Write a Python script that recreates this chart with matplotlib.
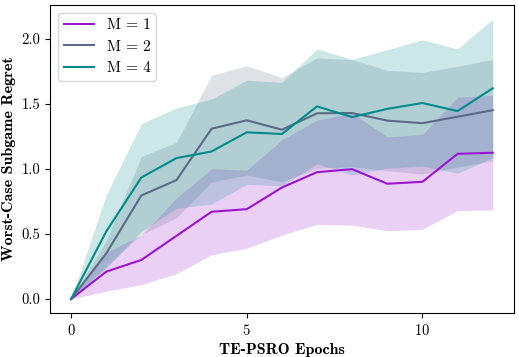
import numpy as np
import matplotlib
matplotlib.use("Agg")
import matplotlib.pyplot as plt

plt.rcParams["font.family"] = "cmr10"
plt.rcParams["mathtext.fontset"] = "cm"
plt.rcParams["axes.formatter.use_mathtext"] = True

epochs = np.arange(13)

# mean regret per epoch
m1_mean = [0.0, 0.21, 0.30, 0.485, 0.67, 0.69, 0.856, 0.974, 0.997, 0.885, 0.90, 1.115, 1.123]
m2_mean = [0.0, 0.35, 0.795, 0.913, 1.308, 1.372, 1.30, 1.426, 1.428, 1.37, 1.35, 1.40, 1.45]
m4_mean = [0.0, 0.518, 0.933, 1.082, 1.133, 1.28, 1.267, 1.479, 1.397, 1.46, 1.505, 1.443, 1.618]

# std (band half-widths)
m1_std = [0.0, 0.15, 0.19, 0.29, 0.33, 0.30, 0.366, 0.40, 0.43, 0.36, 0.364, 0.435, 0.44]
m2_std = [0.0, 0.10, 0.30, 0.29, 0.41, 0.42, 0.40, 0.425, 0.41, 0.386, 0.39, 0.387, 0.39]
m4_std = [0.0, 0.28, 0.413, 0.385, 0.403, 0.40, 0.397, 0.44, 0.443, 0.455, 0.485, 0.477, 0.532]

labels = ["M = 1", "M = 2", "M = 4"]
colors = ["#9b14d2", "#5b6a86", "#008b8b"]

fig, ax = plt.subplots(figsize=(5.19, 3.57), dpi=100)

for mean, std, lab, c in zip([m1_mean, m2_mean, m4_mean],
                             [m1_std, m2_std, m4_std], labels, colors):
    mean = np.array(mean)
    std = np.array(std)
    ax.plot(epochs, mean, color=c, linewidth=1.5, label=lab)
    ax.fill_between(epochs, mean - std, mean + std, color=c, alpha=0.2, linewidth=0)

ax.set_xticks([0, 5, 10])
ax.set_yticks([0.0, 0.5, 1.0, 1.5, 2.0])
ax.set_yticklabels(["0.0", "0.5", "1.0", "1.5", "2.0"])
ax.set_xlabel("TE-PSRO Epochs", fontfamily="cmb10", fontsize=11.5)
ax.set_ylabel("Worst-Case Subgame Regret", fontfamily="cmb10", fontsize=11.5)
ax.tick_params(labelsize=10.5)
ax.legend(loc="upper left", fontsize=11)

fig.subplots_adjust(left=0.0963, right=0.990, top=0.986, bottom=0.1232)
fig.savefig("out.png", dpi=100)
